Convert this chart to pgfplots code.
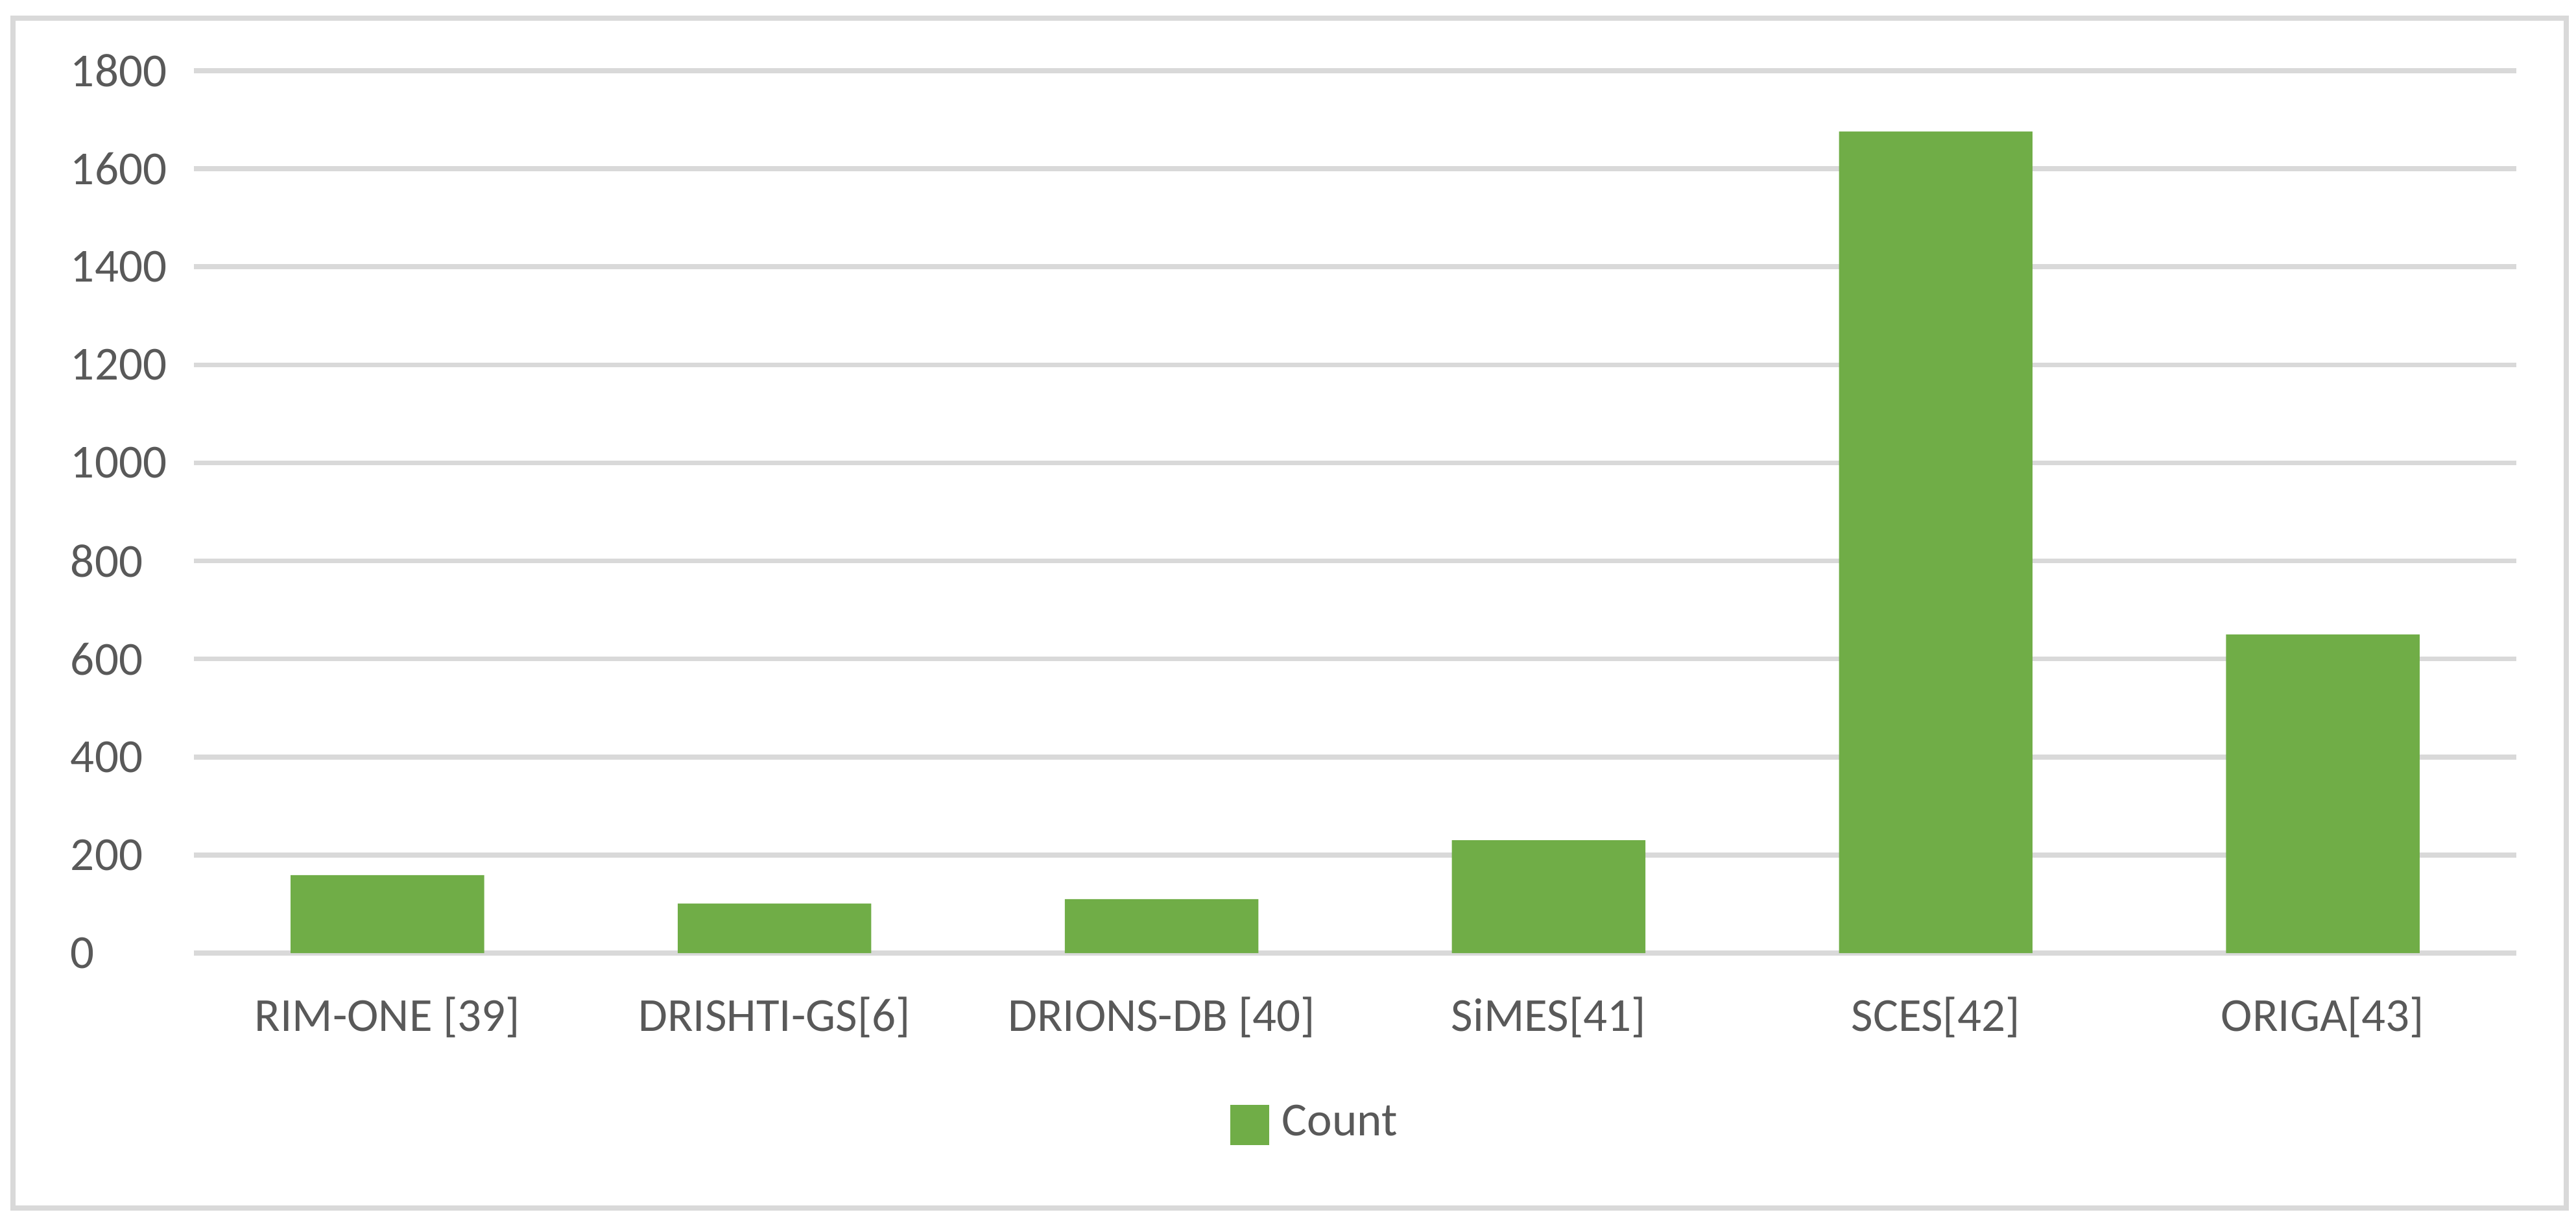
\documentclass[border=0pt]{standalone}
\usepackage{fontspec}
\setmainfont{Carlito}
\usepackage{pgfplots}
\pgfplotsset{compat=1.18}
\definecolor{bargreen}{HTML}{70AD47}
\definecolor{gridgray}{HTML}{D9D9D9}
\definecolor{txtgray}{HTML}{595959}
\definecolor{framegray}{HTML}{D9D9D9}

\begin{document}
\begin{tikzpicture}
\useasboundingbox (-29.9pt,-41.2pt) rectangle (367.3pt,146.9pt);
\draw[framegray, line width=0.8pt] (-27.9pt,-39.3pt) rectangle (365.8pt,144.1pt);
\begin{axis}[
  at={(0pt,0pt)}, anchor=south west,
  scale only axis,
  width=358.1pt, height=136pt,
  ymin=0, ymax=1800,
  xmin=-0.5, xmax=5.5,
  ytick={0,200,...,1800},
  xtick=data,
  xticklabels={RIM-ONE [39],DRISHTI-GS[6],DRIONS-DB [40],SiMES[41],SCES[42],ORIGA[43]},
  ymajorgrids,
  grid style={gridgray, line width=0.75pt},
  axis line style={draw=none},
  major tick length=0pt,
  tick label style={font=\fontsize{7.3}{9}\selectfont, text=txtgray},
  /pgf/number format/assume math mode=true,
  /pgf/number format/1000 sep={},
  yticklabel style={anchor=west, inner sep=0pt, xshift=-19.2pt},
  xticklabel style={yshift=-3.2pt},
  ybar, bar width=0.5,
  legend style={at={(0.485,-0.195)}, anchor=center, draw=none, fill=none,
    font=\fontsize{7.3}{9}\selectfont, text=txtgray},
  legend image code/.code={\fill[bargreen] (0pt,-3.1pt) rectangle (6pt,3.1pt);},
]
\addplot[fill=bargreen, draw=none] coordinates {
(0,159) (1,101) (2,110) (3,230) (4,1676) (5,650)
};
\addlegendentry{Count}
\end{axis}
\end{tikzpicture}
\end{document}
